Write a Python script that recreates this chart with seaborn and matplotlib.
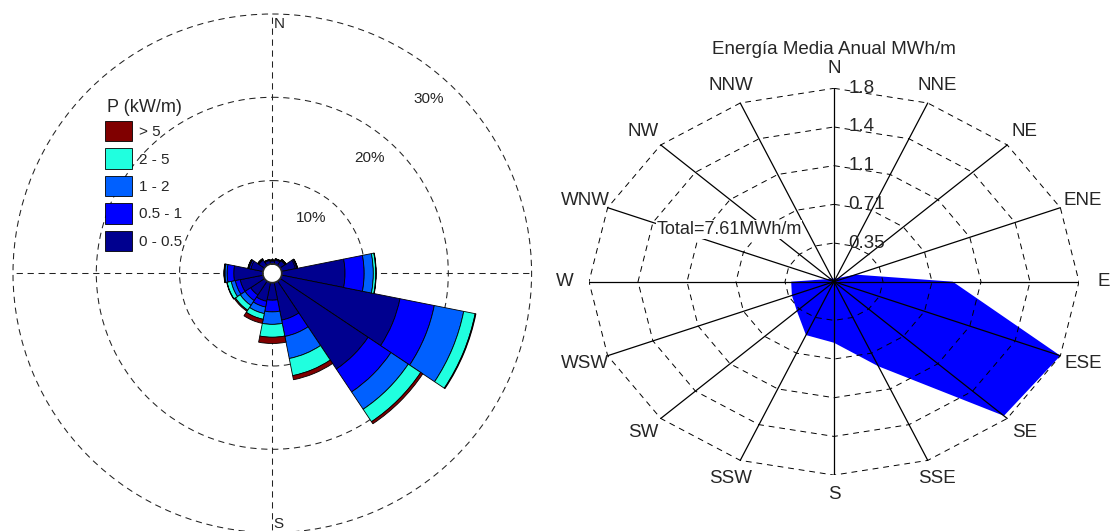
import numpy as np
import matplotlib
matplotlib.use("Agg")
import matplotlib.pyplot as plt
import seaborn as sns

# Wind direction sectors
dirs = ['N', 'NNE', 'NE', 'ENE', 'E', 'ESE', 'SE', 'SSE',
        'S', 'SSW', 'SW', 'WSW', 'W', 'WNW', 'NW', 'NNW']

# Frequency (%) of each wave power class per direction (left rose)
p_0_05 = [0.35, 0.50, 0.70, 1.70, 7.60, 14.5, 12.7, 4.60, 2.10, 2.30, 2.00, 2.80, 3.50, 1.50, 0.80, 0.45]
p_05_1 = [0.07, 0.10, 0.10, 0.15, 2.30, 4.20, 3.30, 2.00, 1.40, 0.70, 0.80, 0.60, 0.80, 0.20, 0.10, 0.05]
p_1_2 = [0.03, 0.03, 0.05, 0.05, 1.10, 3.60, 2.50, 2.70, 1.50, 0.80, 0.70, 0.50, 0.25, 0.10, 0.05, 0.03]
p_2_5 = [0.01, 0.01, 0.02, 0.05, 0.30, 1.40, 1.80, 2.10, 1.55, 0.70, 0.70, 0.50, 0.10, 0.05, 0.02, 0.01]
p_gt5 = [0.00, 0.00, 0.00, 0.00, 0.05, 0.10, 0.30, 0.50, 0.75, 0.50, 0.15, 0.05, 0.03, 0.01, 0.00, 0.00]
classes = ['0 - 0.5', '0.5 - 1', '1 - 2', '2 - 5', '> 5']

# Mean annual energy per direction (MWh/m) (right chart)
energia = [0.03, 0.03, 0.05, 0.17, 0.86, 1.774, 1.74, 0.84,
           0.56, 0.53, 0.38, 0.33, 0.31, 0.06, 0.04, 0.03]
total_label = 'Total=7.61MWh/m'
ring_pct = [10, 20, 30]

sns.set_theme(style='white')
plt.rcParams['font.family'] = ['Liberation Sans', 'DejaVu Sans']
colors = sns.color_palette(['#00008F', '#0000FF', '#0060FF', '#20FFDF', '#800000'])

fig = plt.figure(figsize=(11.1, 5.31), dpi=100)
W, H = 1110, 531

# ---------------- left: wind/power rose ----------------
ax = fig.add_axes([13 / W, (H - 532.6) / H, 518.6 / W, 518.6 / H], projection='polar')
ax.set_theta_zero_location('N')
ax.set_theta_direction(-1)
ax.set_ylim(0, 30)
ax.set_rorigin(-1.13)
ax.set_axisbelow(True)

theta = np.deg2rad(np.arange(16) * 22.5)
width = 2 * np.pi / 16
bottom = np.zeros(16)
bars = []
for vals, c in zip([p_0_05, p_05_1, p_1_2, p_2_5, p_gt5], colors):
    b = ax.bar(theta, vals, width=width, bottom=bottom, color=c,
               edgecolor='black', linewidth=0.6, zorder=2)
    bars.append(b)
    bottom = bottom + np.array(vals)

dash = (0, (6, 4.5))
ax.set_rgrids(ring_pct, labels=[''] * len(ring_pct))
ax.set_thetagrids([0, 90, 180, 270], labels=[''] * 4)
ax.grid(True, linestyle=dash, color='#222222', linewidth=0.75)
for gl in ax.yaxis.get_gridlines() + ax.xaxis.get_gridlines():
    gl.set_clip_on(False)
for sp in ax.spines.values():
    sp.set_visible(False)

for v, a in zip(ring_pct, [35, 40, 42]):
    ax.text(np.deg2rad(a), v - 3.0, f'{v}%', ha='center', va='center', fontsize=11)

for lbl, a, ha, va, off in [('N', 0, 'left', 'top', (1, -2)),
                            ('E', 90, 'right', 'top', (-1, -3)),
                            ('S', 180, 'left', 'bottom', (1, 1)),
                            ('W', 270, 'left', 'top', (1, -3))]:
    ax.annotate(lbl, xy=(np.deg2rad(a), 30), xytext=off, textcoords='offset points',
                ha=ha, va=va, fontsize=11)

# legend (title drawn as its own text so it sits close to the entries)
fig.text(107 / W, 1 - 107.5 / H, 'P (kW/m)', ha='left', va='center', fontsize=13)
ax.legend(handles=[b[0] for b in bars[::-1]], labels=classes[::-1],
          loc='upper left',
          bbox_to_anchor=(105 / W, 1 - 121 / H), bbox_transform=fig.transFigure,
          frameon=False, fontsize=11,
          handlelength=1.75, handleheight=1.65, labelspacing=0.48,
          handletextpad=0.45, borderpad=0, borderaxespad=0)

# ---------------- right: energy polygon ----------------
ax2 = fig.add_axes([589 / W, (H - 475.1) / H, 490 / W, 386.8 / H])
rmax = max(energia)
ang = np.deg2rad(np.arange(16) * 22.5)
sx, cy = np.sin(ang), np.cos(ang)
e = np.array(energia)

ax2.fill(e * sx, e * cy, color='#0000FF', linewidth=0, zorder=1)

levels = rmax * np.arange(1, 6) / 5
for lv in levels:
    ax2.plot(np.append(lv * sx, lv * sx[0]), np.append(lv * cy, lv * cy[0]),
             color='black', linestyle=(0, (6, 5)), linewidth=0.7, zorder=2)
for s, c in zip(sx, cy):
    ax2.plot([0, rmax * s], [0, rmax * c], color='black', linewidth=0.9, zorder=3)

for lv in levels:
    ax2.annotate(f'{lv:.2g}', xy=(0, lv), xytext=(10.5, 0), textcoords='offset points',
                 ha='left', va='center', fontsize=13.5, zorder=4)

for d, s, c in zip(dirs, sx, cy):
    ax2.text(1.1 * rmax * s, 1.1 * rmax * c, d, ha='center', va='center', fontsize=13.5)

ax2.text(0, 1.2 * rmax, 'Energía Media Anual MWh/m', ha='center', va='center', fontsize=13.5)
ax2.text(-0.76, 0.48, total_label, ha='center', va='center', fontsize=13,
         zorder=5, bbox=dict(facecolor='white', edgecolor='none', pad=0.5))

ax2.set_xlim(-rmax, rmax)
ax2.set_ylim(-rmax, rmax)
ax2.axis('off')

fig.savefig('out.png', dpi=100)
